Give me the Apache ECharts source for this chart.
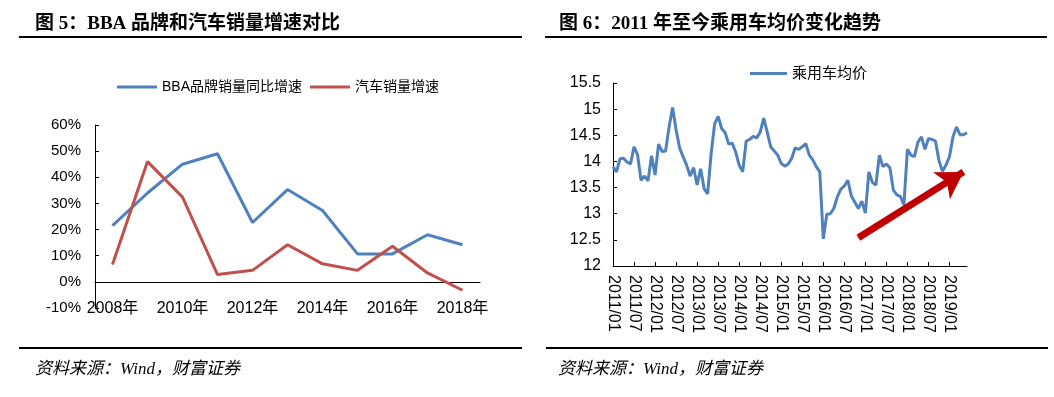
<!DOCTYPE html>
<html>
<head>
<meta charset="utf-8">
<script src="https://cdn.jsdelivr.net/npm/echarts@6/dist/echarts.min.js"></script>
<style>
html, body { margin: 0; padding: 0; background: #fff; }
#chart { width: 1054px; height: 397px; }
</style>
</head>
<body>
<div id="chart"></div>
<script>
// 图5 数据
var years = ['2008年', '2009年', '2010年', '2011年', '2012年', '2013年', '2014年', '2015年', '2016年', '2017年', '2018年'];
var bbaGrowth = [21.5, 34, 45, 49, 22.7, 35.3, 27.3, 10.7, 10.7, 18, 14.2];
var autoGrowth = [6.6, 46, 32.4, 2.8, 4.4, 14.2, 6.9, 4.4, 13.6, 3.4, -3.2];

// 图6 数据：2011/01 - 2019/06 月度
var months = [];
for (var y = 2011; y <= 2019; y++) {
  for (var m = 1; m <= 12; m++) {
    if (y === 2019 && m > 6) break;
    months.push(y + '/' + (m < 10 ? '0' + m : m));
  }
}
var avgPrice = [
  13.90, 13.80, 14.05, 14.06, 13.99, 13.95, 14.28, 14.13, 13.64, 13.72, 13.63, 14.11,
  13.74, 14.33, 14.19, 14.20, 14.66, 15.03, 14.60, 14.26, 14.09, 13.93, 13.72, 13.88,
  13.55, 13.86, 13.48, 13.38, 14.15, 14.72, 14.86, 14.63, 14.55, 14.33, 14.35, 14.18,
  13.93, 13.80, 14.39, 14.42, 14.48, 14.45, 14.56, 14.83, 14.56, 14.28, 14.20, 14.12,
  13.96, 13.91, 13.95, 14.06, 14.26, 14.23, 14.28, 14.34, 14.12, 14.03, 13.90, 13.80,
  12.52, 12.99, 13.00, 13.10, 13.32, 13.47, 13.53, 13.64, 13.34, 13.22, 13.10, 13.24,
  13.01, 13.80, 13.60, 13.55, 14.12, 13.90, 13.95, 13.88, 13.45, 13.36, 13.33, 13.17,
  14.23, 14.12, 14.09, 14.37, 14.47, 14.23, 14.44, 14.42, 14.39, 14.02, 13.81, 13.93,
  14.09, 14.47, 14.66, 14.51, 14.51, 14.55
];
// 趋势箭头（数据坐标）
var trendStart = [70, 12.54];
var trendEnd = [99.5, 13.8];

var sansFont = 'Liberation Sans, Arial, Noto Sans CJK SC';
var titleFont = 'Liberation Serif, Noto Sans CJK SC';

var chart = echarts.init(document.getElementById('chart'));
var option = {
  animation: false,
  title: [
    { text: '图 5：BBA 品牌和汽车销量增速对比', left: 30, top: 10,
      textStyle: { fontSize: 19, fontWeight: 'bold', color: '#000', fontFamily: titleFont } },
    { text: '图 6：2011 年至今乘用车均价变化趋势', left: 554, top: 10,
      textStyle: { fontSize: 19, fontWeight: 'bold', color: '#000', fontFamily: titleFont } },
    { text: '资料来源：Wind，财富证券', left: 30, top: 356,
      textStyle: { fontSize: 17, fontWeight: 'normal', fontStyle: 'italic', color: '#000', fontFamily: titleFont } },
    { text: '资料来源：Wind，财富证券', left: 553, top: 356,
      textStyle: { fontSize: 17, fontWeight: 'normal', fontStyle: 'italic', color: '#000', fontFamily: titleFont } }
  ],
  graphic: [
    { type: 'line', shape: { x1: 19, y1: 37, x2: 522, y2: 37 }, style: { stroke: '#000', lineWidth: 2 } },
    { type: 'line', shape: { x1: 545, y1: 37, x2: 1047, y2: 37 }, style: { stroke: '#000', lineWidth: 2 } },
    { type: 'line', shape: { x1: 19, y1: 348, x2: 522, y2: 348 }, style: { stroke: '#000', lineWidth: 2 } },
    { type: 'line', shape: { x1: 546, y1: 348, x2: 1048, y2: 348 }, style: { stroke: '#000', lineWidth: 2 } }
  ],
  legend: [
    { data: ['BBA品牌销量同比增速', '汽车销量增速'], left: 112, top: 75,
      icon: 'rect', itemWidth: 40, itemHeight: 3, itemGap: 8,
      textStyle: { fontSize: 14, color: '#000', fontFamily: sansFont } },
    { data: ['乘用车均价'], left: 745, top: 61,
      icon: 'rect', itemWidth: 37, itemHeight: 3,
      textStyle: { fontSize: 15, color: '#000', fontFamily: sansFont } }
  ],
  grid: [
    { left: 95, top: 125, width: 385, height: 183, containLabel: false },
    { left: 613, top: 83, width: 354, height: 183, containLabel: false }
  ],
  xAxis: [
    {
      type: 'category', gridIndex: 0, data: years, boundaryGap: true,
      axisLine: { onZero: true, lineStyle: { color: '#000', width: 1 } },
      axisTick: { interval: 0, length: 4, lineStyle: { color: '#000' } },
      axisLabel: { interval: 1, margin: -7, fontSize: 16, color: '#000', fontFamily: sansFont }
    },
    {
      type: 'category', gridIndex: 1, data: months, boundaryGap: false,
      axisLine: { lineStyle: { color: '#000', width: 1 } },
      axisTick: { interval: 5, inside: true, length: 4, lineStyle: { color: '#000' } },
      axisLabel: { interval: 5, rotate: -90, margin: 9, fontSize: 16, color: '#000', fontFamily: sansFont }
    }
  ],
  yAxis: [
    {
      type: 'value', gridIndex: 0, min: -10, max: 60, interval: 10,
      splitLine: { show: false },
      axisLine: { show: true, lineStyle: { color: '#000', width: 1 } },
      axisTick: { show: true, inside: true, length: 4, lineStyle: { color: '#000' } },
      axisLabel: { formatter: '{value}%', margin: 14, fontSize: 15, color: '#000', fontFamily: sansFont }
    },
    {
      type: 'value', gridIndex: 1, min: 12, max: 15.5, interval: 0.5,
      splitLine: { show: false },
      axisLine: { show: true, lineStyle: { color: '#000', width: 1 } },
      axisTick: { show: true, inside: true, length: 4, lineStyle: { color: '#000' } },
      axisLabel: { margin: 12, fontSize: 16, color: '#000', fontFamily: sansFont }
    }
  ],
  series: [
    {
      name: 'BBA品牌销量同比增速', type: 'line', xAxisIndex: 0, yAxisIndex: 0,
      data: bbaGrowth, symbol: 'none', color: '#4F81BD',
      lineStyle: { width: 3, color: '#4F81BD' }
    },
    {
      name: '汽车销量增速', type: 'line', xAxisIndex: 0, yAxisIndex: 0,
      data: autoGrowth, symbol: 'none', color: '#C0504D',
      lineStyle: { width: 3, color: '#C0504D' }
    },
    {
      name: '乘用车均价', type: 'line', xAxisIndex: 1, yAxisIndex: 1,
      data: avgPrice, symbol: 'none', color: '#4F81BD',
      lineStyle: { width: 3, color: '#4F81BD' },
      markLine: {
        silent: true,
        symbol: ['none', 'arrow'],
        symbolSize: [24, 26],
        label: { show: false },
        lineStyle: { color: '#C00000', width: 7, type: 'solid' },
        itemStyle: { color: '#C00000' },
        emphasis: { disabled: true },
        data: [[{ coord: trendStart }, { coord: trendEnd }]]
      }
    }
  ]
};
chart.setOption(option);
</script>
</body>
</html>
